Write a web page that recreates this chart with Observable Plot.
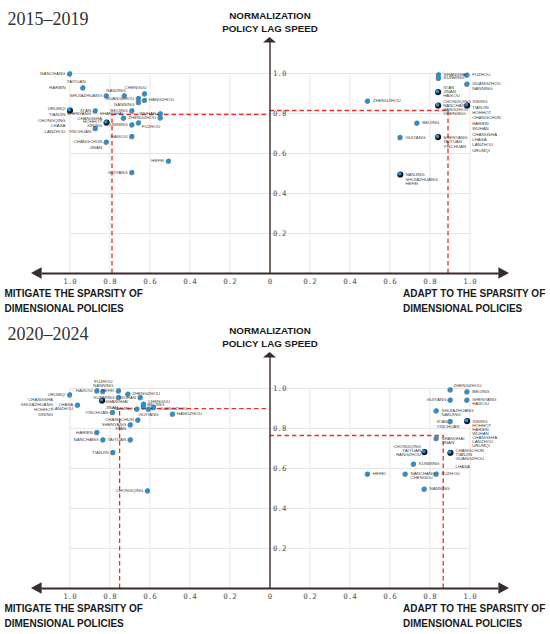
<!DOCTYPE html>
<html><head><meta charset="utf-8">
<script src="https://cdn.jsdelivr.net/npm/d3@7"></script>
<script src="https://cdn.jsdelivr.net/npm/@observablehq/plot@0.6"></script>
<style>body{margin:0;background:#fff} #chart svg{display:block;overflow:visible}</style>
</head><body><div id="chart"></div>
<script>
// ---------- data ----------
const periods = ["2015–2019", "2020–2024"];
const yTitle = ["NORMALIZATION", "POLICY LAG SPEED"];
const leftTitle = ["MITIGATE THE SPARSITY OF", "DIMENSIONAL POLICIES"];
const rightTitle = ["ADAPT TO THE SPARSITY OF", "DIMENSIONAL POLICIES"];
const xTicks = [-1, -0.8, -0.6, -0.4, -0.2, 0, 0.2, 0.4, 0.6, 0.8, 1];
const yTicks = [0.2, 0.4, 0.6, 0.8, 1.0];

// [cities sharing a point, sparsity score, normalization policy lag speed]
const mitigate2015 = [
  [["NANCHANG"], 1.00, 1.00],
  [["TAIYUAN", "HARBIN"], 0.934, 0.93],
  [["SHIJIAZHUANG"], 0.817, 0.89],
  [["NANJING"], 0.727, 0.89],
  [["CHENGDU"], 0.626, 0.90],
  [["GUANGZHOU"], 0.656, 0.877],
  [["NANNING"], 0.656, 0.857],
  [["HANGZHOU"], 0.626, 0.868],
  [["BEIJING"], 0.689, 0.815],
  [["URUMQI", "TIANJIN", "CHONGQING", "LHASA", "LANZHOU"], 1.00, 0.815],
  [["XI'AN", "SHENYANG"], 0.872, 0.815],
  [["SHANGHAI"], 0.731, 0.779],
  [["WUHAN"], 0.547, 0.80],
  [["ZHENGZHOU"], 0.547, 0.78],
  [["CHANGSHA", "HOHHOT", "XINING"], 0.817, 0.755],
  [["YINCHUAN"], 0.872, 0.727],
  [["KUNMING"], 0.689, 0.745],
  [["FUZHOU"], 0.656, 0.755],
  [["HAIKOU"], 0.689, 0.687],
  [["CHANGCHUN", "JINAN"], 0.817, 0.659],
  [["HEFEI"], 0.506, 0.564],
  [["GUIYANG"], 0.689, 0.507]
];
const adapt2015 = [
  [["FUZHOU"], 0.986, 0.994],
  [["SHANGHAI"], 0.844, 0.995],
  [["KUNMING"], 0.844, 0.978],
  [["GUANGZHOU", "NANNING"], 0.986, 0.949],
  [["XI'AN", "JINAN", "HAIKOU"], 0.841, 0.907],
  [["ZHENGZHOU"], 0.489, 0.864],
  [["CHONGQING", "NANCHANG", "HANGZHOU", "CHENGDU"], 0.841, 0.84],
  [["XINING", "TIANJIN", "HOHHOT", "CHANGCHUN", "HARBIN", "WUHAN", "CHANGSHA", "LHASA", "LANZHOU", "URUMQI"], 0.986, 0.84],
  [["BEIJING"], 0.736, 0.754],
  [["GUIYANG"], 0.652, 0.682],
  [["SHENYANG", "TAIYUAN", "YINCHUAN"], 0.841, 0.682],
  [["NANJING", "SHIJIAZHUANG", "HEFEI"], 0.652, 0.495]
];
const mitigate2020 = [
  [["URUMQI", "CHANGSHA", "SHIJIAZHUANG", "HOHHOT", "XINING"], 1.00, 0.97],
  [["LHASA", "LANZHOU"], 0.961, 0.919],
  [["HAIKOU"], 0.864, 0.99],
  [["FUZHOU", "NANNING"], 0.834, 0.987],
  [["HEFEI"], 0.756, 0.99],
  [["ZHENGZHOU"], 0.709, 0.974],
  [["KUNMING"], 0.756, 0.957],
  [["SHANGHAI", "JINAN"], 0.839, 0.94],
  [["WUHAN"], 0.647, 0.957],
  [["CHENGDU"], 0.631, 0.924],
  [["BEIJING"], 0.631, 0.91],
  [["NANJING"], 0.664, 0.899],
  [["GUIYANG"], 0.606, 0.899],
  [["GUANGZHOU"], 0.581, 0.907],
  [["HANGZHOU"], 0.486, 0.874],
  [["YINCHUAN"], 0.786, 0.882],
  [["CHANGCHUN"], 0.659, 0.844],
  [["SHENYANG", "XI'AN"], 0.697, 0.82],
  [["HARBIN"], 0.864, 0.782],
  [["NANCHANG"], 0.834, 0.745],
  [["TAIYUAN"], 0.697, 0.745],
  [["TIANJIN"], 0.784, 0.682],
  [["CHONGQING"], 0.611, 0.49]
];
const adapt2020 = [
  [["ZHENGZHOU"], 0.9025, 0.995],
  [["BEIJING"], 0.986, 0.985],
  [["GUIYANG"], 0.9025, 0.944],
  [["SHENYANG", "HAIKOU"], 0.986, 0.944],
  [["SHIJIAZHUANG", "NANJING"], 0.8325, 0.89],
  [["XI'AN", "YINCHUAN"], 0.9025, 0.837],
  [["XINING", "HOHHOT", "HARBIN", "WUHAN", "CHANGSHA", "LANZHOU", "URUMQI"], 0.986, 0.837],
  [["SHANGHAI", "JINAN"], 0.8325, 0.752],
  [["CHONGQING", "TAIYUAN", "HANGZHOU"], 0.7725, 0.682],
  [["CHANGCHUN", "TIANJIN", "GUANGZHOU", "LHASA"], 0.9025, 0.679],
  [["KUNMING"], 0.719, 0.624],
  [["HEFEI"], 0.489, 0.574],
  [["NANCHANG", "CHENGDU"], 0.6775, 0.574],
  [["FUZHOU"], 0.8325, 0.574],
  [["NANNING"], 0.7725, 0.499]
];
// mean thresholds (red dashed), per period
const mitigateMean = [0.79, 0.752];
const mitigateLagMean = [0.795, 0.899];
const adaptMean = [0.89, 0.866];
const adaptLagMean = [0.815, 0.765];

const mitigateSets = [mitigate2015, mitigate2020];
const adaptSets = [adapt2015, adapt2020];

// ---------- label layout (placement only) ----------
const lineHeights = [4.6, 4.3];
const labelLayout = {
  "0|m|TAIYUAN": {lines: [{anchor: "middle", dx: -7, dy: -5.5}, {anchor: "end", dx: -17.5, dy: 0}]},
  "0|m|NANJING": {anchor: "end", dx: 1, dy: -5},
  "0|m|CHENGDU": {anchor: "end", dx: 2, dy: -6},
  "0|m|HANGZHOU": {anchor: "start", dx: 4},
  "0|m|FUZHOU": {anchor: "start", dx: 3, dy: 4},
  "0|m|SHANGHAI": {dx: -1, dy: -4},
  "0|m|NANNING": {dy: 2.5},
  "0|m|CHANGSHA": {dy: -4, lh: 3.4},
  "0|m|URUMQI": {dy: -2, lh: 5.8},
  "0|m|XI'AN": {lh: 3.5},
  "0|m|CHANGCHUN": {lh: 6},
  "0|m|YINCHUAN": {dy: 3},
  "0|a|XI'AN": {dy: -5, lh: 4},
  "0|a|CHONGQING": {dy: -3.7, lh: 4},
  "0|a|XINING": {dy: -3.7, lh: 5.4},
  "0|a|SHENYANG": {lh: 4.5},
  "0|a|NANJING": {lh: 4.7},
  "1|m|URUMQI": {dark: false, lh: 5.1, lines: [{}, {dx: -17}, {dx: -17}, {dx: -17}, {dx: -17}]},
  "1|m|LHASA": {lh: 4},
  "1|m|FUZHOU": {anchor: "middle", dx: 0, dy: -10, lh: 4.3},
  "1|m|ZHENGZHOU": {anchor: "start", dx: 4},
  "1|m|SHANGHAI": {anchor: "start", dx: 3, dy: 1, lh: 6, dark: true},
  "1|m|CHENGDU": {anchor: "start", dx: 4, dy: -2},
  "1|m|BEIJING": {anchor: "start", dx: 3.5, dy: -1.5},
  "1|m|GUIYANG": {anchor: "middle", dx: 0, dy: 6},
  "1|m|GUANGZHOU": {anchor: "start", dx: 5, dy: 1.5},
  "1|m|HANGZHOU": {anchor: "start", dx: 4},
  "1|m|SHENYANG": {lh: 4},
  "1|a|ZHENGZHOU": {dx: 3, dy: -3.5},
  "1|a|GUIYANG": {anchor: "end", dx: -4},
  "1|a|XI'AN": {lh: 5, lines: [{anchor: "end", dx: -3}, {anchor: "start", dx: -14}]},
  "1|a|XINING": {lh: 4},
  "1|a|SHIJIAZHUANG": {lh: 4},
  "1|a|SHANGHAI": {lh: 4},
  "1|a|NANCHANG": {lh: 4},
  "1|a|CHONGQING": {anchor: "end", dx: -3.5, dy: -5.7, lh: 4.3},
  "1|a|CHANGCHUN": {dy: -2, lh: 4, lines: [{}, {}, {}, {dy: 13.4}]}
};

const AXIS = "#3b2a2a";
const BLUE = "#2290da";
const RED = "#e5312c";
const GRID = "#e3e3e3";
const fmt = d => d === 0 ? "0" : d3.format(".1f")(Math.abs(d));

function buildPanel(p) {
  const points = [];
  const lines = [];
  const sides = [["m", -1, mitigateSets[p]], ["a", 1, adaptSets[p]]];
  for (const [key, sign, set] of sides) {
    for (const g of set) {
      const [names, score, lag] = g;
      const ov = labelLayout[`${p}|${key}|${names[0]}`] || {};
      const base = Object.assign({anchor: sign < 0 ? "end" : "start", dx: sign < 0 ? -4.5 : 5, dy: 0, lh: lineHeights[p]}, ov);
      const dark = ov.dark !== undefined ? ov.dark : names.length >= 3;
      points.push({x: sign * score, y: lag, dark});
      names.forEach((t, i) => {
        const l = (ov.lines && ov.lines[i]) || {};
        lines.push({
          x: sign * score, y: lag, text: t,
          anchor: l.anchor ?? base.anchor,
          dx: l.dx ?? base.dx,
          dy: l.dy ?? (base.dy + i * base.lh)
        });
      });
    }
  }

  const arrowHeads = (index, scales) => {
    const x = scales.x, y = scales.y;
    const y0 = y(0), x0 = x(0);
    const xl = x(-1.1925), xr = x(1.1975), yt = y(1.18);
    const g = d3.create("svg:g").attr("fill", AXIS);
    g.append("path").attr("d", `M${xl},${y0}L${xl + 10.6},${y0 - 5.8}L${xl + 10.6},${y0 + 5.8}Z`);
    g.append("path").attr("d", `M${xr},${y0}L${xr - 10.6},${y0 - 5.8}L${xr - 10.6},${y0 + 5.8}Z`);
    g.append("path").attr("d", `M${x0},${yt}L${x0 - 6.5},${yt + 5.6}L${x0 + 6.5},${yt + 5.6}Z`);
    return g.node();
  };

  const labelMarks = lines.map(l => Plot.text([l], {
    x: "x", y: "y", text: "text", textAnchor: l.anchor, dx: l.dx, dy: l.dy,
    fontSize: 4.4, fill: "#444", fontFamily: "Liberation Sans, Arial, sans-serif"
  }));

  const boldText = {fontFamily: "Liberation Sans, Arial, sans-serif", fontWeight: "bold", fill: "#1a1a1a"};

  return Plot.plot({
    width: 550, height: 315,
    marginLeft: 69.5, marginRight: 80.5, marginTop: 73, marginBottom: 42,
    x: {domain: [-1, 1], axis: null},
    y: {domain: [0, 1], axis: null},
    style: {background: "white", overflow: "visible"},
    marks: [
      // grid
      Plot.ruleX(xTicks.filter(d => d !== 0), {x: d => d, y1: 0, y2: 1, stroke: GRID, strokeWidth: 0.9}),
      Plot.ruleY(yTicks, {y: d => d, x1: -1, x2: 1, stroke: GRID, strokeWidth: 0.9}),
      // mean thresholds
      Plot.ruleX([-mitigateMean[p]], {x: d => d, y1: 0, y2: mitigateLagMean[p], stroke: RED, strokeWidth: 1.3, strokeDasharray: "4.5,3"}),
      Plot.ruleY([mitigateLagMean[p]], {y: d => d, x1: -mitigateMean[p], x2: 0, stroke: RED, strokeWidth: 1.3, strokeDasharray: "4.5,3"}),
      Plot.ruleX([adaptMean[p]], {x: d => d, y1: 0, y2: adaptLagMean[p], stroke: RED, strokeWidth: 1.3, strokeDasharray: "4.5,3"}),
      Plot.ruleY([adaptLagMean[p]], {y: d => d, x1: 0, x2: adaptMean[p], stroke: RED, strokeWidth: 1.3, strokeDasharray: "4.5,3"}),
      // axes
      Plot.ruleY([0], {y: d => d, x1: -1.14, x2: 1.145, stroke: AXIS, strokeWidth: 2.2}),
      Plot.ruleX([0], {x: d => d, y1: 0, y2: 1.16, stroke: AXIS, strokeWidth: 1.4}),
      arrowHeads,
      // tick labels
      Plot.text(xTicks, {x: d => d, y: 0, text: fmt, dy: 8.5, fontSize: 7.5, fill: "#555", fontFamily: "DejaVu Sans Mono, monospace"}),
      Plot.text(yTicks, {x: 0, y: d => d, text: fmt, dx: 3, textAnchor: "start", fontSize: 7.5, fill: "#555", fontFamily: "DejaVu Sans Mono, monospace"}),
      // points
      Plot.dot(points, {x: "x", y: "y", r: 2.6, fill: "#15222e", fillOpacity: 0.55, dx: -0.5, dy: 0.6}),
      Plot.dot(points.filter(d => d.dark), {x: "x", y: "y", r: 3, fill: "#111"}),
      Plot.dot(points.filter(d => !d.dark), {x: "x", y: "y", r: 2.2, fill: BLUE}),
      Plot.dot(points.filter(d => d.dark), {x: "x", y: "y", r: 1.9, fill: BLUE, dx: -0.8, dy: -0.8}),
      ...labelMarks,
      // titles
      Plot.text([periods[p]], {frameAnchor: "top-left", dx: -62.5, dy: -61.5, textAnchor: "start", fontSize: 18, fill: "#333", fontFamily: "Liberation Serif, Times New Roman, serif"}),
      Plot.text([yTitle[0]], {frameAnchor: "top", dy: -61, fontSize: 9.8, ...boldText}),
      Plot.text([yTitle[1]], {frameAnchor: "top", dy: -48, fontSize: 9.8, ...boldText}),
      Plot.text([leftTitle[0]], {frameAnchor: "bottom-left", dx: -65.5, dy: 23, textAnchor: "start", fontSize: 10, ...boldText}),
      Plot.text([leftTitle[1]], {frameAnchor: "bottom-left", dx: -65.5, dy: 38, textAnchor: "start", fontSize: 10, ...boldText}),
      Plot.text([rightTitle[0]], {frameAnchor: "bottom-right", dx: -67, dy: 23, textAnchor: "start", fontSize: 10, ...boldText}),
      Plot.text([rightTitle[1]], {frameAnchor: "bottom-right", dx: -67, dy: 38, textAnchor: "start", fontSize: 10, ...boldText})
    ]
  });
}

const root = document.getElementById("chart");
root.appendChild(buildPanel(0));
root.appendChild(buildPanel(1));
</script>
</body></html>
